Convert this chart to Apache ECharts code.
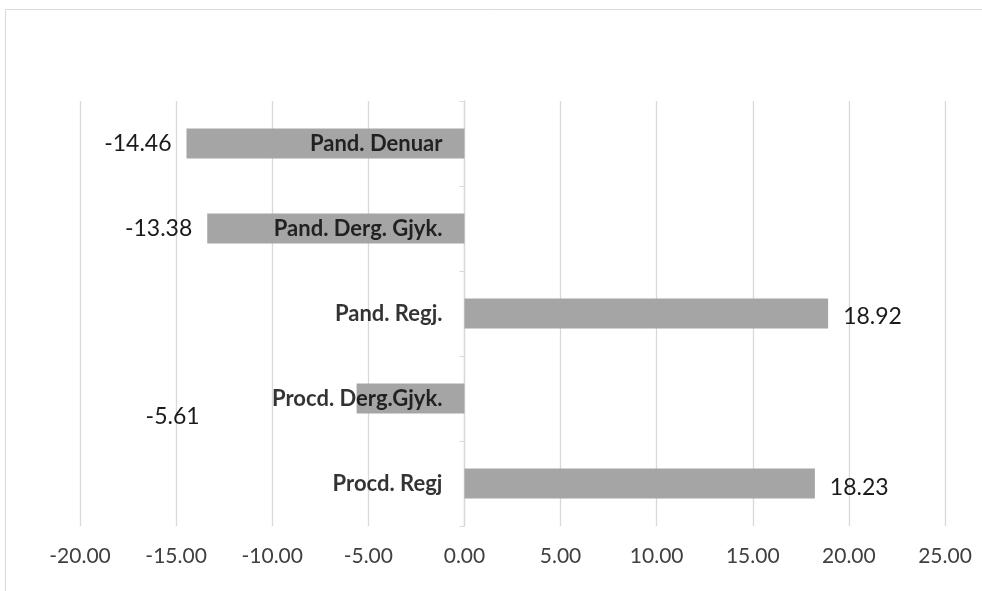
<!DOCTYPE html>
<html><head><meta charset="utf-8">
<script src="https://cdn.jsdelivr.net/npm/echarts@6/dist/echarts.min.js"></script>
<style>html,body{margin:0;padding:0;background:#fff}#c{width:982px;height:591px}</style>
</head><body><div id="c"></div>
<script>
const categories = ['Pand. Denuar', 'Pand. Derg. Gjyk.', 'Pand. Regj.', 'Procd. Derg.Gjyk.', 'Procd. Regj'];
const values = [-14.46, -13.38, 18.92, -5.61, 18.23];
const xMin = -20, xMax = 25, xStep = 5;

const labelOffsets = [[0, 0], [0, 0], [0, 3], [-142, 18], [0, 4]];

const barData = values.map((v, i) => ({
  value: v,
  label: { position: v < 0 ? 'left' : 'right', offset: labelOffsets[i] }
}));
const nameData = categories.map(c => [0, c]);

const chart = echarts.init(document.getElementById('c'));
chart.setOption({
  animation: false,
  grid: { left: 80, right: 37, top: 101, bottom: 65, containLabel: false, outerBoundsMode: 'none' },
  graphic: [{ type: 'rect', shape: { x: 5.5, y: 9.5, width: 1000, height: 600 },
    style: { fill: 'none', stroke: '#d9d9d9', lineWidth: 1 }, silent: true }],
  xAxis: {
    type: 'value', min: xMin, max: xMax, interval: xStep,
    axisLine: { show: false }, axisTick: { show: false },
    splitLine: { lineStyle: { color: '#d9d9d9', width: 1.3 } },
    axisLabel: { formatter: v => v.toFixed(2), color: '#404040', fontSize: 21, fontFamily: 'Lato', margin: 20 }
  },
  yAxis: {
    type: 'category', data: categories, inverse: true,
    axisLine: { onZero: true, lineStyle: { color: '#d9d9d9', width: 1.3 } },
    axisTick: { show: true, length: 5, lineStyle: { color: '#d9d9d9' } },
    axisLabel: { show: false }
  },
  series: [{
    type: 'bar', data: barData, barWidth: 30, z: 2,
    itemStyle: { color: '#a5a5a5' },
    label: {
      show: true, distance: 15,
      formatter: p => p.value.toFixed(2),
      color: '#1a1a1a', fontSize: 23, fontFamily: 'Lato'
    }
  }, {
    type: 'scatter', data: nameData, symbolSize: 0, z: 5, silent: true,
    label: {
      show: true, position: 'left', distance: 22,
      formatter: p => p.value[1],
      color: '#000', fontSize: 22, fontWeight: 'bold', fontFamily: 'Lato'
    }
  }]
});
</script>
</body></html>
